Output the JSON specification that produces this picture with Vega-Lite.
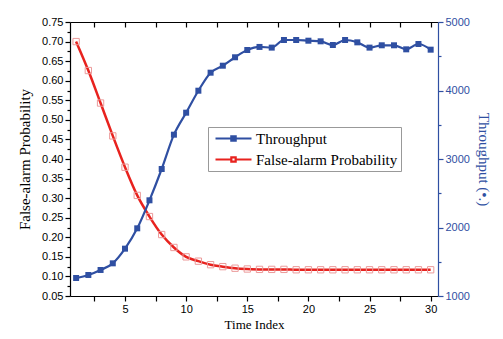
{
  "$schema": "https://vega.github.io/schema/vega-lite/v6.json",
  "autosize": "none",
  "width": 368,
  "height": 274,
  "padding": {"left": 70, "top": 22, "right": 65, "bottom": 43},
  "background": "white",
  "config": {
    "view": {"stroke": null},
    "axis": {"labelFont": "Liberation Sans", "labelFontSize": 11, "titleFont": "Liberation Serif", "titleFontWeight": "normal", "grid": false, "domainColor": "black", "tickColor": "black", "labelColor": "black", "titleColor": "black", "domainWidth": 1.2, "tickWidth": 1.2}
  },
  "data": {"values": [
    {"t": 1, "thr": 1263, "fap": 0.700},
    {"t": 2, "thr": 1307, "fap": 0.626},
    {"t": 3, "thr": 1380, "fap": 0.543},
    {"t": 4, "thr": 1477, "fap": 0.459},
    {"t": 5, "thr": 1691, "fap": 0.379},
    {"t": 6, "thr": 1988, "fap": 0.307},
    {"t": 7, "thr": 2397, "fap": 0.253},
    {"t": 8, "thr": 2854, "fap": 0.207},
    {"t": 9, "thr": 3355, "fap": 0.174},
    {"t": 10, "thr": 3676, "fap": 0.150},
    {"t": 11, "thr": 3997, "fap": 0.139},
    {"t": 12, "thr": 4260, "fap": 0.130},
    {"t": 13, "thr": 4362, "fap": 0.125},
    {"t": 14, "thr": 4485, "fap": 0.121},
    {"t": 15, "thr": 4591, "fap": 0.119},
    {"t": 16, "thr": 4636, "fap": 0.118},
    {"t": 17, "thr": 4626, "fap": 0.118},
    {"t": 18, "thr": 4737, "fap": 0.118},
    {"t": 19, "thr": 4737, "fap": 0.117},
    {"t": 20, "thr": 4727, "fap": 0.117},
    {"t": 21, "thr": 4718, "fap": 0.117},
    {"t": 22, "thr": 4664, "fap": 0.117},
    {"t": 23, "thr": 4737, "fap": 0.117},
    {"t": 24, "thr": 4703, "fap": 0.117},
    {"t": 25, "thr": 4626, "fap": 0.117},
    {"t": 26, "thr": 4660, "fap": 0.117},
    {"t": 27, "thr": 4660, "fap": 0.117},
    {"t": 28, "thr": 4601, "fap": 0.117},
    {"t": 29, "thr": 4679, "fap": 0.117},
    {"t": 30, "thr": 4596, "fap": 0.117}
  ]},
  "resolve": {"scale": {"y": "independent", "x": "shared", "color": "shared"}, "axis": {"x": "independent"}},
  "layer": [
    {
      "layer": [
        {"mark": {"type": "line", "interpolate": "monotone", "strokeWidth": 2.5},
         "encoding": {"color": {"datum": "False-alarm Probability", "type": "nominal",
           "scale": {"domain": ["Throughput", "False-alarm Probability"], "range": ["#2f4fa2", "#e8221e"]},
           "legend": {"title": null, "orient": "none", "legendX": 138, "legendY": 105, "padding": 3, "strokeColor": "#999999", "fillColor": "white",
             "symbolType": "M-0.571,0L1.57,0M2.43,0L4.571,0M1.69,-0.31L2.31,-0.31L2.31,0.31L1.69,0.31Z",
             "symbolSize": 196, "symbolStrokeWidth": 2.2, "labelFont": "Liberation Serif", "labelFontSize": 15, "labelColor": "black", "labelOffset": 28, "rowPadding": 4, "labelLimit": 300,
             "encode": {"symbols": {"update": {"fill": {"signal": "datum.value === 'Throughput' ? '#2f4fa2' : 'white'"}, "fillOpacity": {"value": 1}}}}}}}},
        {"mark": {"type": "point", "shape": "square", "size": 40, "filled": false, "strokeWidth": 1, "color": "#eb9a9a", "opacity": 1},
         "encoding": {}}
      ],
      "encoding": {
        "x": {"field": "t", "type": "quantitative", "scale": {"domain": [0.5, 30.6], "nice": false, "zero": false},
          "axis": {"orient": "bottom", "title": "Time Index", "titleFontSize": 13, "titlePadding": 4, "values": [2.5, 5, 7.5, 10, 12.5, 15, 17.5, 20, 22.5, 25, 27.5, 30], "labelExpr": "datum.value % 5 == 0 ? datum.label : ''", "tickSize": 5, "labelPadding": 2}},
        "y": {"field": "fap", "type": "quantitative", "scale": {"domain": [0.05, 0.75], "nice": false, "zero": false},
          "axis": {"orient": "left", "title": "False-alarm Probability", "titleFontSize": 15, "titlePadding": 9,
            "values": [0.05, 0.075, 0.1, 0.125, 0.15, 0.175, 0.2, 0.225, 0.25, 0.275, 0.3, 0.325, 0.35, 0.375, 0.4, 0.425, 0.45, 0.475, 0.5, 0.525, 0.55, 0.575, 0.6, 0.625, 0.65, 0.675, 0.7, 0.725, 0.75],
            "format": ".2f",
            "labelExpr": "round(datum.value * 1000) % 50 == 0 ? datum.label : ''",
            "tickSize": {"condition": {"test": "round(datum.value * 1000) % 50 == 0", "value": 5}, "value": 3},
            "labelPadding": 2}}
      }
    },
    {
      "layer": [
        {"mark": {"type": "line", "interpolate": "monotone", "strokeWidth": 2.2},
         "encoding": {"color": {"datum": "Throughput", "type": "nominal"}}},
        {"mark": {"type": "point", "shape": "square", "size": 36, "filled": true, "color": "#2f4fa2", "opacity": 1},
         "encoding": {}}
      ],
      "encoding": {
        "x": {"field": "t", "type": "quantitative", "scale": {"domain": [0.5, 30.6], "nice": false, "zero": false},
          "axis": {"orient": "top", "title": null, "values": [2.5, 5, 7.5, 10, 12.5, 15, 17.5, 20, 22.5, 25, 27.5, 30], "labels": false, "tickSize": -5}},
        "y": {"field": "thr", "type": "quantitative", "scale": {"domain": [1000, 5000], "nice": false, "zero": false},
          "axis": {"orient": "right", "title": "Throughput (•.)", "titleFontSize": 15, "titlePadding": 6, "titleColor": "#2f4fa2",
            "values": [1000, 1500, 2000, 2500, 3000, 3500, 4000, 4500, 5000],
            "labelExpr": "datum.value % 1000 == 0 ? datum.label : ''",
            "format": "d",
            "tickSize": {"condition": {"test": "datum.value % 1000 == 0", "value": 5}, "value": 3},
            "domainColor": "#2f4fa2", "tickColor": "#2f4fa2", "labelColor": "#2f4fa2", "labelPadding": 2}}
      }
    }
  ]
}
